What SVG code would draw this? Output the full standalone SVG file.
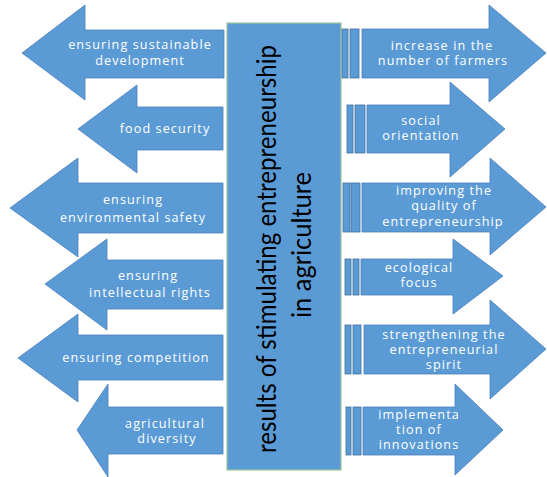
<svg xmlns="http://www.w3.org/2000/svg" width="547" height="477" viewBox="0 0 547 477">
  <style>
    .arrow { fill: #5b9bd5; stroke: #4a7ebb; stroke-width: 0.8; }
    .bar { fill: #5b9bd5; stroke: #41719c; stroke-width: 0.8; }
    .core { fill: #5b9bd5; stroke: #9cc59a; stroke-width: 1.2; }
    .lbl { font-family: "Open Sans", "DejaVu Sans", sans-serif; font-size: 12.6px; fill: #ffffff; text-anchor: middle; letter-spacing: 1.1px; }
    .title { font-family: "Lato", "Open Sans", sans-serif; font-size: 26px; fill: #000000; text-anchor: middle; }
  </style>
  <rect width="547" height="477" fill="#ffffff"/>

  <!-- central block -->
  <g id="core">
    <rect class="core" x="227" y="23" width="114" height="447"/>
    <text class="title" transform="translate(276,249) rotate(-90)" textLength="408" lengthAdjust="spacingAndGlyphs">results of stimulating entrepreneurship</text>
    <text class="title" transform="translate(311,245) rotate(-90)" textLength="146" lengthAdjust="spacingAndGlyphs">in agriculture</text>
  </g>

  <!-- left-pointing result arrows -->
  <g id="connectors-left">
    <g id="sustainable-development">
      <path class="arrow" d="M224,30 H85 V5 L22,53 L85,100 V78 H224 Z"/>
      <text class="lbl" x="140" y="49">ensuring sustainable</text>
      <text class="lbl" x="140" y="65">development</text>
    </g>
    <g id="food-security">
      <path class="arrow" d="M223,107 H137 V85 L78,129 L137,173 V150 H223 Z"/>
      <text class="lbl" x="165" y="133">food security</text>
    </g>
    <g id="environmental-safety">
      <path class="arrow" d="M223,183 H78 V158 L10,208 L78,257 V233 H223 Z"/>
      <text class="lbl" x="133" y="204">ensuring</text>
      <text class="lbl" x="133" y="222">environmental safety</text>
    </g>
    <g id="intellectual-rights">
      <path class="arrow" d="M223,260 H107 V239 L45,284 L107,330 V309 H223 Z"/>
      <text class="lbl" x="148" y="280">ensuring</text>
      <text class="lbl" x="150" y="297">intellectual rights</text>
    </g>
    <g id="competition">
      <path class="arrow" d="M223,335 H78 V314 L18,358 L78,402 V380 H223 Z"/>
      <text class="lbl" x="136" y="362">ensuring competition</text>
    </g>
    <g id="agricultural-diversity">
      <path class="arrow" d="M223,407 H108 V384 L77,430 L108,477 V454 H223 Z"/>
      <text class="lbl" x="165" y="428">agricultural</text>
      <text class="lbl" x="167" y="443">diversity</text>
    </g>
  </g>

  <!-- right-pointing striped arrows -->
  <g id="connectors-right">
    <g id="number-of-farmers">
      <rect class="bar" x="342" y="29" width="6" height="49"/>
      <rect class="bar" x="350" y="29" width="9" height="49"/>
      <path class="arrow" d="M362,29 H489 V5 L546,53 L489,102 V78 H362 Z"/>
      <text class="lbl" x="442" y="50">increase in the</text>
      <text class="lbl" x="443" y="65">number of farmers</text>
    </g>
    <g id="social-orientation">
      <rect class="bar" x="347" y="105" width="6" height="48"/>
      <rect class="bar" x="355" y="105" width="10" height="48"/>
      <path class="arrow" d="M367,105 H450 V82 L505,129 L450,177 V153 H367 Z"/>
      <text class="lbl" x="421" y="125">social</text>
      <text class="lbl" x="421" y="140">orientation</text>
    </g>
    <g id="quality-of-entrepreneurship">
      <rect class="bar" x="343" y="183" width="7" height="49"/>
      <rect class="bar" x="351" y="183" width="9" height="49"/>
      <path class="arrow" d="M362,183 H490 V158 L546,207 L490,255 V232 H362 Z"/>
      <text class="lbl" x="444" y="195">improving the</text>
      <text class="lbl" x="444" y="210">quality of</text>
      <text class="lbl" x="443" y="226">entrepreneurship</text>
    </g>
    <g id="ecological-focus">
      <rect class="bar" x="345" y="259" width="6" height="36"/>
      <rect class="bar" x="353" y="259" width="6" height="36"/>
      <path class="arrow" d="M361,259 H453 V239 L503,276 L453,314 V295 H361 Z"/>
      <text class="lbl" x="419" y="272">ecological</text>
      <text class="lbl" x="419" y="287">focus</text>
    </g>
    <g id="entrepreneurial-spirit">
      <rect class="bar" x="345" y="325" width="6" height="49"/>
      <rect class="bar" x="353" y="325" width="8" height="49"/>
      <path class="arrow" d="M364,325 H490 V300 L546,349 L490,399 V374 H364 Z"/>
      <text class="lbl" x="444" y="339">strengthening the</text>
      <text class="lbl" x="444" y="354">entrepreneurial</text>
      <text class="lbl" x="444" y="369">spirit</text>
    </g>
    <g id="implementation-of-innovations">
      <rect class="bar" x="346" y="407" width="5" height="48"/>
      <rect class="bar" x="353" y="407" width="8" height="48"/>
      <path class="arrow" d="M363,407 H455 V384 L503,430 L455,475 V455 H363 Z"/>
      <text class="lbl" x="419" y="419">implementa</text>
      <text class="lbl" x="419" y="434">tion of</text>
      <text class="lbl" x="419" y="449">innovations</text>
    </g>
  </g>
</svg>
